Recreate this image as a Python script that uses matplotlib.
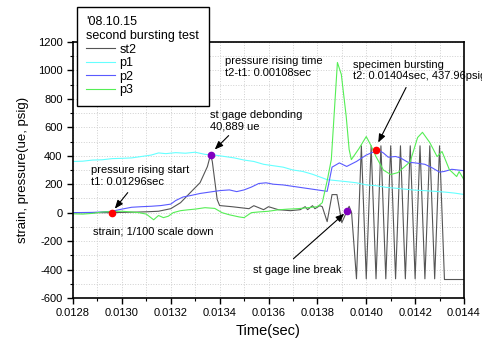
import matplotlib
matplotlib.use("Agg")
import matplotlib.pyplot as plt
from matplotlib.ticker import MultipleLocator, FormatStrFormatter

plt.rcParams['font.family'] = ['Liberation Sans', 'DejaVu Sans']
plt.rcParams['axes.unicode_minus'] = False

# strain gage st2 (1/100 scale)
st2_t = [0.01280, 0.01290, 0.01296, 0.01300, 0.01306, 0.01310, 0.01315, 0.01320,
         0.01324, 0.01328, 0.01332, 0.01335, 0.013363, 0.01337, 0.01339, 0.01340,
         0.01345, 0.01352, 0.01354, 0.01358, 0.01360, 0.01364, 0.01369, 0.01373,
         0.01375, 0.01376, 0.01378, 0.01379, 0.01381, 0.01382, 0.01384, 0.01386,
         0.01388, 0.01390, 0.013922, 0.01393, 0.01394, 0.01396, 0.01398, 0.01400,
         0.01402, 0.01404, 0.01406, 0.01408, 0.01410, 0.01412, 0.01414, 0.01416,
         0.01418, 0.01420, 0.01422, 0.01424, 0.01426, 0.01428, 0.01430, 0.01432,
         0.01440]
st2_v = [0, 0, 0, 2, 4, 6, 10, 28,
         70, 141, 211, 324, 409, 360, 92, 50,
         42, 28, 49, 21, 42, 21, 14, 21,
         42, 21, 49, 28, 49, 42, -63, 127,
         127, -70, 14, 45, 0, -465, 470, -465,
         470, -465, 470, -465, 470, -465, 470, -465,
         470, -465, 470, -465, 470, -465, 470, -470,
         -470]

# pressure p1
p1_t = [0.01280, 0.01284, 0.01288, 0.01292, 0.01296, 0.01300, 0.01304, 0.01308,
        0.01312, 0.01315, 0.01318, 0.01322, 0.01326, 0.01330, 0.01334, 0.01338,
        0.01342, 0.01346, 0.01350, 0.01354, 0.01358, 0.01362, 0.01366, 0.01370,
        0.01374, 0.01378, 0.01382, 0.01384, 0.01388, 0.01392, 0.01396, 0.01400,
        0.01404, 0.01408, 0.01412, 0.01416, 0.01420, 0.01424, 0.01428, 0.01432,
        0.01436, 0.01440]
p1_v = [360, 362, 370, 372, 380, 382, 385, 395,
        405, 420, 415, 422, 418, 425, 410, 405,
        395, 385, 370, 360, 340, 330, 320, 300,
        290, 270, 245, 232, 225, 218, 210, 195,
        190, 178, 172, 165, 158, 155, 150, 145,
        138, 128]

# pressure p2
p2_t = [0.01280, 0.01288, 0.01292, 0.01296, 0.01300, 0.01304, 0.01308, 0.01312,
        0.01316, 0.01320, 0.01322, 0.01325, 0.01328, 0.01332, 0.01336, 0.01340,
        0.01344, 0.01347, 0.01350, 0.01353, 0.01356, 0.01359, 0.01362, 0.01366,
        0.01370, 0.01374, 0.01378, 0.01382, 0.01384, 0.01386, 0.01389, 0.01392,
        0.01396, 0.01400, 0.01402, 0.01405, 0.01407, 0.01409, 0.01412, 0.01414,
        0.01417, 0.01420, 0.01424, 0.01427, 0.01430, 0.01432, 0.01435, 0.01440]
p2_v = [0, 2, 5, 10, 25, 38, 42, 45,
        50, 60, 85, 110, 120, 135, 145, 155,
        160, 148, 160, 180, 205, 210, 200, 195,
        185, 175, 165, 155, 150, 320, 350, 325,
        360, 405, 420, 440, 420, 390, 395, 385,
        355, 350, 340, 315, 285, 290, 305, 295]

# pressure p3
p3_t = [0.01280, 0.01284, 0.01288, 0.01292, 0.01296, 0.01300, 0.01304, 0.01307,
        0.01310, 0.01313, 0.01315, 0.01317, 0.01319, 0.01321, 0.01324, 0.01327,
        0.01330, 0.01334, 0.01338, 0.01341, 0.01344, 0.01348, 0.01350, 0.01353,
        0.01356, 0.01360, 0.01364, 0.01368, 0.01372, 0.01376, 0.01380, 0.01382,
        0.013841, 0.013857, 0.013882, 0.013898, 0.013918, 0.01393, 0.013939, 0.01397,
        0.01400, 0.01402, 0.01404, 0.01407, 0.01410, 0.01413, 0.01418, 0.01421,
        0.01423, 0.01426, 0.01429, 0.01431, 0.01434, 0.01437, 0.01438, 0.01440]
p3_v = [-8, -10, -5, 5, 8, 10, 5, 0,
        -10, -50, -20, -35, -25, 0, 14, 20,
        25, 35, 30, 0, -15, -30, -35, 0,
        5, 10, 20, 25, 28, 35, 42, 70,
        232, 373, 1056, 972, 676, 444, 373, 450,
        535, 470, 394, 300, 268, 282, 359, 528,
        565, 493, 394, 430, 303, 254, 289, 232]

# marked points
red_t = [0.01296, 0.01404]
red_v = [0, 437.96]
purple_t = [0.013363, 0.013922]
purple_v = [408.89, 14]

fig = plt.figure(figsize=(4.82, 3.41), dpi=100)
ax = fig.add_axes([73/482, 1-298/341, (464-73)/482, (298-42)/341])

ax.plot(st2_t, st2_v, color='#555555', lw=0.8, label='st2')
ax.plot(p1_t, p1_v, color='#66ffff', lw=0.8, label='p1')
ax.plot(p2_t, p2_v, color='#5a5aff', lw=0.8, label='p2')
ax.plot(p3_t, p3_v, color='#55ee55', lw=0.8, label='p3')
ax.plot(red_t, red_v, 'o', color='red', ms=4.5, zorder=5)
ax.plot(purple_t, purple_v, 'o', color='#8000c0', ms=4.5, zorder=5)

ax.set_xlim(0.0128, 0.0144)
ax.set_ylim(-600, 1200)
ax.xaxis.set_major_locator(MultipleLocator(0.0002))
ax.xaxis.set_minor_locator(MultipleLocator(0.0001))
ax.xaxis.set_major_formatter(FormatStrFormatter('%.4f'))
ax.yaxis.set_major_locator(MultipleLocator(200))
ax.yaxis.set_minor_locator(MultipleLocator(100))
ax.tick_params(which='both', direction='out', labelsize=8, top=False, right=False)
ax.tick_params(which='major', length=4, width=1)
ax.tick_params(which='minor', length=2.5, width=0.8)
for s in ax.spines.values():
    s.set_linewidth(1.2)
ax.grid(True, which='both', linestyle=':', color='#d0d0d0', linewidth=0.7)
ax.set_axisbelow(True)

ax.set_xlabel('Time(sec)', fontsize=10.5, labelpad=4)
ax.set_ylabel('strain, pressure(ue, psig)', fontsize=9.5, labelpad=6)

fs = 8
ax.text(0.012873, 257, 'pressure rising start\nt1: 0.01296sec', fontsize=fs, va='center')
ax.text(0.013359, 644, 'st gage debonding\n40,889 ue', fontsize=fs, va='center')
ax.text(0.01342, 1025, 'pressure rising time\nt2-t1: 0.00108sec', fontsize=fs, va='center')
ax.text(0.013947, 1000, 'specimen bursting\nt2: 0.01404sec, 437.96psig', fontsize=fs, va='center')
ax.text(0.012882, -134, 'strain; 1/100 scale down', fontsize=fs, va='center')
ax.text(0.013535, -401, 'st gage line break', fontsize=fs, va='center')

arrow = dict(arrowstyle='-|>,head_length=0.5,head_width=0.2', color='black', lw=0.8,
             shrinkA=0, shrinkB=0)
ax.annotate('', xy=(0.012971, 28), xytext=(0.013024, 141), arrowprops=arrow)
ax.annotate('', xy=(0.01338, 444), xytext=(0.013437, 542), arrowprops=arrow)
ax.annotate('', xy=(0.014049, 493), xytext=(0.014163, 880), arrowprops=arrow)
ax.annotate('', xy=(0.01391, -7), xytext=(0.013702, -324), arrowprops=arrow)

leg = ax.legend(title="'08.10.15\nsecond bursting test", loc='upper left',
                bbox_to_anchor=(77/482, 1-7/341), bbox_transform=fig.transFigure,
                borderaxespad=0, fontsize=9, title_fontsize=9, alignment='left',
                frameon=True, fancybox=False, framealpha=1, edgecolor='black',
                labelspacing=0.12, handlelength=2.3, handletextpad=0.35,
                borderpad=0.75)
leg.get_frame().set_linewidth(1.0)

fig.savefig('out.png', dpi=100)
